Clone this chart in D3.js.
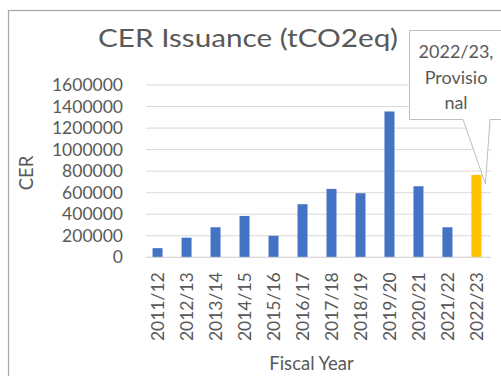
<!DOCTYPE html>
<html>
<head>
<meta charset="utf-8">
<script src="https://cdn.jsdelivr.net/npm/d3@7"></script>
<style>
  html, body { margin: 0; padding: 0; background: #fff; }
  svg { display: block; }
  text { font-family: Lato, "Open Sans", sans-serif; fill: #595959; }
</style>
</head>
<body>
<div id="chart"></div>
<script>
// Fiscal years and certified emission reductions issued per year
const categories = ["2011/12", "2012/13", "2013/14", "2014/15", "2015/16", "2016/17",
                    "2017/18", "2018/19", "2019/20", "2020/21", "2021/22", "2022/23"];
const issuance = [85000, 182000, 279000, 384000, 200000, 493000,
                  635000, 595000, 1354000, 660000, 279000, 765000];
const provisional = [false, false, false, false, false, false,
                     false, false, false, false, false, true];
const yTicks = [0, 200000, 400000, 600000, 800000, 1000000, 1200000, 1400000, 1600000];

const W = 501, H = 376;
const plot = { left: 143, right: 491, top: 85, bottom: 257.3 };
const FONT = "Lato, 'Open Sans', sans-serif";

const svg = d3.select("#chart").append("svg")
  .attr("width", W).attr("height", H);

// chart frame
svg.append("rect")
  .attr("x", 8.5).attr("y", 10.5)
  .attr("width", W + 10).attr("height", H + 10)
  .attr("fill", "#fff").attr("stroke", "#a6a6a6").attr("stroke-width", 1.2);

const x = d3.scaleBand().domain(categories)
  .range([plot.left, plot.right]).paddingInner(0.655).paddingOuter(0.33);
const y = d3.scaleLinear().domain([0, 1600000]).range([plot.bottom, plot.top]);

// horizontal gridlines
svg.append("g").selectAll("line").data(yTicks).join("line")
  .attr("x1", plot.left + 3).attr("x2", plot.right)
  .attr("y1", d => y(d)).attr("y2", d => y(d))
  .attr("stroke", "#d9d9d9").attr("stroke-width", 1);

// y axis labels
const yAxis = d3.axisLeft(y).tickValues(yTicks).tickSize(0).tickPadding(0)
  .tickFormat(d3.format("d"));
const gy = svg.append("g").attr("transform", `translate(123,0)`).call(yAxis);
gy.select(".domain").remove();
gy.selectAll("text").attr("font-size", 17.5).attr("fill", "#595959")
  .style("font-family", FONT);

// bars
svg.append("g").selectAll("rect").data(issuance).join("rect")
  .attr("x", (d, i) => x(categories[i]))
  .attr("width", x.bandwidth())
  .attr("y", d => y(d))
  .attr("height", d => y(0) - y(d))
  .attr("fill", (d, i) => provisional[i] ? "#FFC000" : "#4472C4");

// x axis baseline
svg.append("line")
  .attr("x1", plot.left + 3).attr("x2", plot.right)
  .attr("y1", y(0)).attr("y2", y(0))
  .attr("stroke", "#d9d9d9");

// x axis labels, rotated
const xAxis = d3.axisBottom(x).tickSize(0).tickPadding(0);
const gx = svg.append("g").attr("transform", `translate(0,${y(0)})`).call(xAxis);
gx.select(".domain").remove();
gx.selectAll("text")
  .attr("font-size", 17.5).attr("fill", "#595959")
  .style("font-family", FONT)
  .attr("text-anchor", "end")
  .attr("transform", "rotate(-90)")
  .attr("x", -15).attr("y", 0).attr("dy", "0.35em");

// titles
svg.append("text").attr("x", 248).attr("y", 46.5)
  .attr("text-anchor", "middle").attr("font-size", 25.5)
  .attr("textLength", 300).attr("lengthAdjust", "spacingAndGlyphs")
  .text("CER Issuance (tCO2eq)");

svg.append("text")
  .attr("transform", "translate(33,173) rotate(-90)")
  .attr("text-anchor", "middle").attr("font-size", 18.5)
  .text("CER");

svg.append("text").attr("x", 311.5).attr("y", 370)
  .attr("text-anchor", "middle").attr("font-size", 18.5)
  .text("Fiscal Year");

// data callout for the provisional year
const last = categories.length - 1;
const tipX = x(categories[last]) + x.bandwidth() / 2 + 9;
const tipY = y(issuance[last]) + 9;
const box = { l: 409.5, r: 506, t: 30.5, b: 119.5 };
const callout = d3.path();
callout.moveTo(box.l, box.t);
callout.lineTo(box.r, box.t);
callout.lineTo(box.r, box.b);
callout.lineTo(490, box.b);
callout.lineTo(tipX, tipY);
callout.lineTo(463, box.b);
callout.lineTo(box.l, box.b);
callout.closePath();
svg.append("path").attr("d", callout.toString())
  .attr("fill", "#fff").attr("stroke", "#bfbfbf").attr("stroke-width", 1);

const calloutLines = [categories[last] + ",", "Provisio", "nal"];
svg.append("g").selectAll("text").data(calloutLines).join("text")
  .attr("x", 456).attr("y", (d, i) => 58 + i * 25.5)
  .attr("text-anchor", "middle").attr("font-size", 18)
  .text(d => d);
</script>
</body>
</html>
